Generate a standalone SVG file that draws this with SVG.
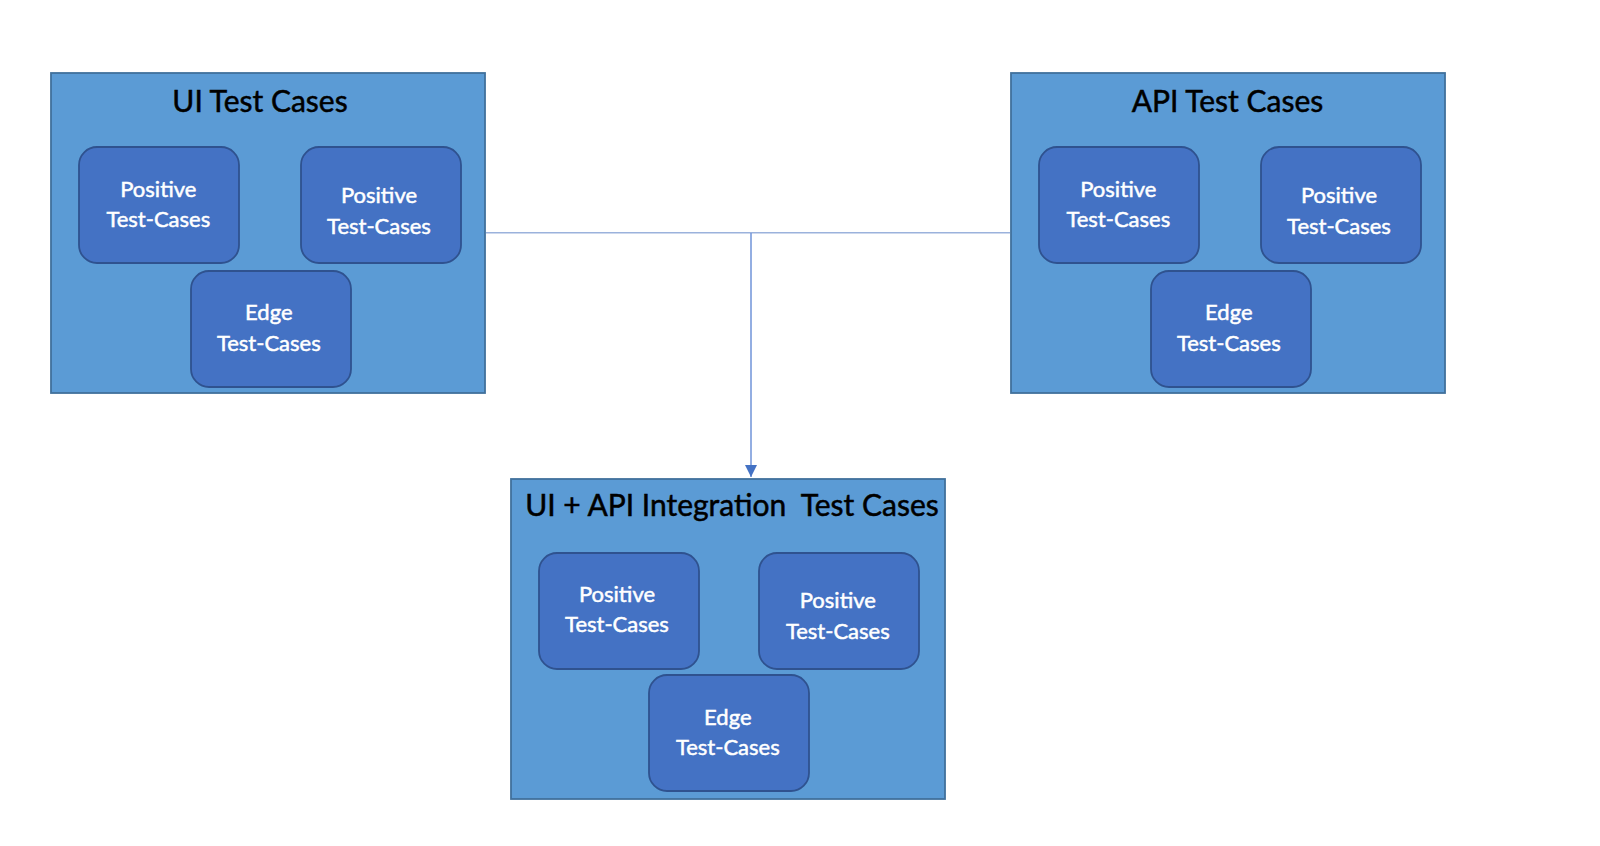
<svg xmlns="http://www.w3.org/2000/svg" width="1600" height="846" viewBox="0 0 1600 846">
<style>
.outer{fill:#5b9bd5;stroke:#41719c;stroke-width:1.8}
.inner{fill:#4472c4;stroke:#2f528f;stroke-width:1.8}
.title{font-family:Lato,"Open Sans",sans-serif;font-size:30px;fill:#000;stroke:#000;stroke-width:0.5;text-anchor:middle;white-space:pre}
.lbl{font-family:Lato,"Open Sans",sans-serif;font-size:22px;fill:#fff;stroke:#fff;stroke-width:0.5;text-anchor:middle}
</style>
<defs>
<marker id="arr" viewBox="0 0 12 12" refX="12" refY="6" markerWidth="12" markerHeight="12" markerUnits="userSpaceOnUse" orient="auto">
<path d="M0,0 L12,6 L0,12 Z" fill="#4472c4"/>
</marker>
</defs>
<rect width="1600" height="846" fill="#fff"/>
<g id="connectors">
<line x1="486" y1="232.7" x2="1010" y2="232.7" stroke="#9bb2dc" stroke-width="1.6"/>
<line x1="751" y1="233" x2="751" y2="477" stroke="#6f93d8" stroke-width="1.5" marker-end="url(#arr)"/>
</g>
<g id="ui">
<rect class="outer" x="51" y="73" width="434" height="320"/>
<text class="title" x="260" y="111.7">UI Test Cases</text>
<g id="ui-pos1"><rect class="inner" x="79" y="147" width="160" height="116" rx="18"/>
<text class="lbl" x="158.3" y="197.3">Positive</text><text class="lbl" x="158.3" y="227.3">Test-Cases</text></g>
<g id="ui-pos2"><rect class="inner" x="301" y="147" width="160" height="116" rx="18"/>
<text class="lbl" x="379" y="202.7">Positive</text><text class="lbl" x="379" y="234">Test-Cases</text></g>
<g id="ui-edge"><rect class="inner" x="191" y="271" width="160" height="116" rx="18"/>
<text class="lbl" x="268.8" y="320">Edge</text><text class="lbl" x="268.8" y="350.7">Test-Cases</text></g>
</g>
<g id="api">
<rect class="outer" x="1011" y="73" width="434" height="320"/>
<text class="title" x="1227.5" y="111.7">API Test Cases</text>
<g id="api-pos1"><rect class="inner" x="1039" y="147" width="160" height="116" rx="18"/>
<text class="lbl" x="1118.3" y="197.3">Positive</text><text class="lbl" x="1118.3" y="227.3">Test-Cases</text></g>
<g id="api-pos2"><rect class="inner" x="1261" y="147" width="160" height="116" rx="18"/>
<text class="lbl" x="1339" y="202.7">Positive</text><text class="lbl" x="1339" y="234">Test-Cases</text></g>
<g id="api-edge"><rect class="inner" x="1151" y="271" width="160" height="116" rx="18"/>
<text class="lbl" x="1228.8" y="320">Edge</text><text class="lbl" x="1228.8" y="350.7">Test-Cases</text></g>
</g>
<g id="integration">
<rect class="outer" x="511" y="479" width="434" height="320"/>
<text class="title" x="732" y="515.7" xml:space="preserve">UI + API Integration  Test Cases</text>
<g id="int-pos1"><rect class="inner" x="539" y="553" width="160" height="116" rx="18"/>
<text class="lbl" x="617" y="602.3">Positive</text><text class="lbl" x="617" y="632.3">Test-Cases</text></g>
<g id="int-pos2"><rect class="inner" x="759" y="553" width="160" height="116" rx="18"/>
<text class="lbl" x="837.8" y="607.7">Positive</text><text class="lbl" x="837.8" y="639">Test-Cases</text></g>
<g id="int-edge"><rect class="inner" x="649" y="675" width="160" height="116" rx="18"/>
<text class="lbl" x="727.8" y="725">Edge</text><text class="lbl" x="727.8" y="755">Test-Cases</text></g>
</g>
</svg>
